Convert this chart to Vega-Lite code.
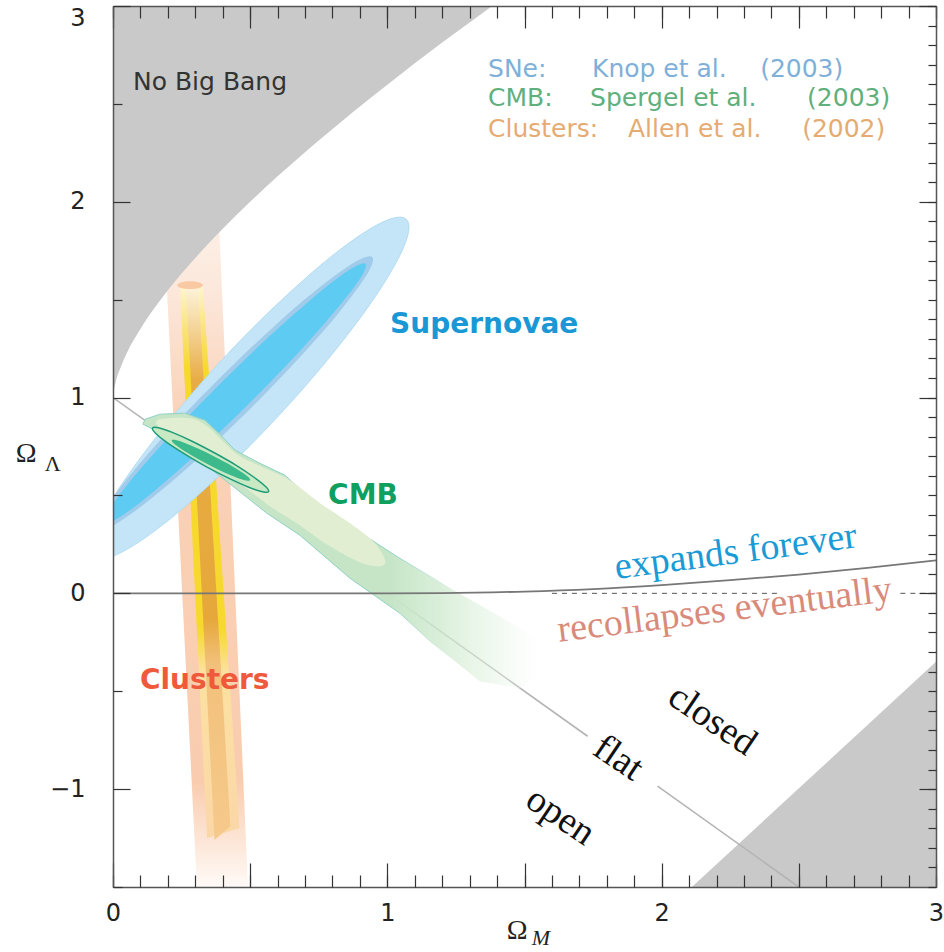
{
"$schema": "https://vega.github.io/schema/vega-lite/v6.json",
"width": 823, "height": 881,
"autosize": {"type": "none"},
"padding": {"left": 113, "top": 6, "right": 8, "bottom": 65},
"background": "white",
"config": {"view": {"stroke": null}},
"datasets": {
"cl": [
{"part":"outer","i":0,"x":0.177,"y":2.1},{"part":"outer","i":1,"x":0.380,"y":2.1},{"part":"outer","i":2,"x":0.492,"y":-1.5},{"part":"outer","i":3,"x":0.306,"y":-1.5},
{"part":"yellow","i":0,"x":0.244,"y":1.57},{"part":"yellow","i":1,"x":0.328,"y":1.57},{"part":"yellow","i":2,"x":0.461,"y":-1.2},{"part":"yellow","i":3,"x":0.343,"y":-1.25},
{"part":"core","i":0,"x":0.266,"y":1.57},{"part":"core","i":1,"x":0.310,"y":1.57},{"part":"core","i":2,"x":0.428,"y":-1.19},{"part":"core","i":3,"x":0.370,"y":-1.26},
{"part":"cap","i":0,"x":0.328,"y":1.574},{"part":"cap","i":1,"x":0.314,"y":1.588},{"part":"cap","i":2,"x":0.281,"y":1.594},{"part":"cap","i":3,"x":0.248,"y":1.588},{"part":"cap","i":4,"x":0.234,"y":1.574},{"part":"cap","i":5,"x":0.248,"y":1.560},{"part":"cap","i":6,"x":0.281,"y":1.554},{"part":"cap","i":7,"x":0.314,"y":1.560}
],
"bigbang": [
{"x":0,"y":1.0},{"x":0.002,"y":1.024},{"x":0.01,"y":1.08},{"x":0.03,"y":1.161},{"x":0.05,"y":1.226},{"x":0.1,"y":1.35},{"x":0.2,"y":1.548},{"x":0.3,"y":1.713},{"x":0.4,"y":1.862},{"x":0.5,"y":2.0},{"x":0.6,"y":2.13},{"x":0.75,"y":2.313},{"x":1.0,"y":2.598},{"x":1.2,"y":2.813},{"x":1.4,"y":3.018}
],
"corner": [{"x":2.11,"y":-1.5},{"x":3.0,"y":-0.35}],
"sn": [
{"lv":"outer","i":0,"x":1.079,"y":1.871},{"lv":"outer","i":1,"x":1.059,"y":1.767},{"lv":"outer","i":2,"x":1.001,"y":1.614},{"lv":"outer","i":3,"x":0.909,"y":1.422},{"lv":"outer","i":4,"x":0.789,"y":1.205},{"lv":"outer","i":5,"x":0.650,"y":0.978},{"lv":"outer","i":6,"x":0.499,"y":0.754},{"lv":"outer","i":7,"x":0.349,"y":0.551},{"lv":"outer","i":8,"x":0.210,"y":0.382},{"lv":"outer","i":9,"x":0.090,"y":0.258},{"lv":"outer","i":10,"x":-0.003,"y":0.188},{"lv":"outer","i":11,"x":-0.061,"y":0.176},{"lv":"outer","i":12,"x":-0.080,"y":0.224},{"lv":"outer","i":13,"x":-0.061,"y":0.328},{"lv":"outer","i":14,"x":-0.003,"y":0.481},{"lv":"outer","i":15,"x":0.090,"y":0.673},{"lv":"outer","i":16,"x":0.210,"y":0.890},{"lv":"outer","i":17,"x":0.349,"y":1.118},{"lv":"outer","i":18,"x":0.499,"y":1.341},{"lv":"outer","i":19,"x":0.650,"y":1.544},{"lv":"outer","i":20,"x":0.789,"y":1.713},{"lv":"outer","i":21,"x":0.909,"y":1.837},{"lv":"outer","i":22,"x":1.001,"y":1.907},{"lv":"outer","i":23,"x":1.059,"y":1.919},
{"lv":"mid","i":0,"x":0.948,"y":1.705},{"lv":"mid","i":1,"x":0.931,"y":1.641},{"lv":"mid","i":2,"x":0.880,"y":1.536},{"lv":"mid","i":3,"x":0.801,"y":1.395},{"lv":"mid","i":4,"x":0.696,"y":1.229},{"lv":"mid","i":5,"x":0.575,"y":1.049},{"lv":"mid","i":6,"x":0.445,"y":0.867},{"lv":"mid","i":7,"x":0.315,"y":0.695},{"lv":"mid","i":8,"x":0.193,"y":0.546},{"lv":"mid","i":9,"x":0.089,"y":0.430},{"lv":"mid","i":10,"x":0.009,"y":0.353},{"lv":"mid","i":11,"x":-0.041,"y":0.322},{"lv":"mid","i":12,"x":-0.058,"y":0.339},{"lv":"mid","i":13,"x":-0.041,"y":0.403},{"lv":"mid","i":14,"x":0.009,"y":0.508},{"lv":"mid","i":15,"x":0.089,"y":0.649},{"lv":"mid","i":16,"x":0.193,"y":0.815},{"lv":"mid","i":17,"x":0.315,"y":0.995},{"lv":"mid","i":18,"x":0.445,"y":1.177},{"lv":"mid","i":19,"x":0.575,"y":1.348},{"lv":"mid","i":20,"x":0.696,"y":1.498},{"lv":"mid","i":21,"x":0.801,"y":1.614},{"lv":"mid","i":22,"x":0.880,"y":1.691},{"lv":"mid","i":23,"x":0.931,"y":1.721},
{"lv":"inner","i":0,"x":0.922,"y":1.675},{"lv":"inner","i":1,"x":0.906,"y":1.620},{"lv":"inner","i":2,"x":0.858,"y":1.526},{"lv":"inner","i":3,"x":0.782,"y":1.397},{"lv":"inner","i":4,"x":0.684,"y":1.242},{"lv":"inner","i":5,"x":0.568,"y":1.072},{"lv":"inner","i":6,"x":0.445,"y":0.899},{"lv":"inner","i":7,"x":0.321,"y":0.734},{"lv":"inner","i":8,"x":0.206,"y":0.589},{"lv":"inner","i":9,"x":0.107,"y":0.473},{"lv":"inner","i":10,"x":0.031,"y":0.395},{"lv":"inner","i":11,"x":-0.016,"y":0.360},{"lv":"inner","i":12,"x":-0.033,"y":0.369},{"lv":"inner","i":13,"x":-0.016,"y":0.424},{"lv":"inner","i":14,"x":0.031,"y":0.518},{"lv":"inner","i":15,"x":0.107,"y":0.647},{"lv":"inner","i":16,"x":0.206,"y":0.802},{"lv":"inner","i":17,"x":0.321,"y":0.972},{"lv":"inner","i":18,"x":0.445,"y":1.145},{"lv":"inner","i":19,"x":0.568,"y":1.310},{"lv":"inner","i":20,"x":0.684,"y":1.455},{"lv":"inner","i":21,"x":0.782,"y":1.571},{"lv":"inner","i":22,"x":0.858,"y":1.649},{"lv":"inner","i":23,"x":0.906,"y":1.684}
],
"cmb": [
{"p":"band","i":0,"x":0.117,"y":0.889},{"p":"band","i":1,"x":0.171,"y":0.915},{"p":"band","i":2,"x":0.262,"y":0.920},{"p":"band","i":3,"x":0.335,"y":0.884},{"p":"band","i":4,"x":0.390,"y":0.812},{"p":"band","i":5,"x":0.445,"y":0.731},{"p":"band","i":6,"x":0.536,"y":0.664},{"p":"band","i":7,"x":0.627,"y":0.603},{"p":"band","i":8,"x":0.718,"y":0.485},{"p":"band","i":9,"x":0.864,"y":0.342},{"p":"band","i":10,"x":1.046,"y":0.179},{"p":"band","i":11,"x":1.229,"y":0.026},{"p":"band","i":12,"x":1.411,"y":-0.118},{"p":"band","i":13,"x":1.611,"y":-0.281},{"p":"band","i":14,"x":1.586,"y":-0.373},{"p":"band","i":15,"x":1.484,"y":-0.485},{"p":"band","i":16,"x":1.338,"y":-0.450},{"p":"band","i":17,"x":1.156,"y":-0.245},{"p":"band","i":18,"x":1.046,"y":-0.102},{"p":"band","i":19,"x":0.864,"y":0.077},{"p":"band","i":20,"x":0.682,"y":0.296},{"p":"band","i":21,"x":0.561,"y":0.409},{"p":"band","i":22,"x":0.437,"y":0.547},{"p":"band","i":23,"x":0.317,"y":0.680},{"p":"band","i":24,"x":0.226,"y":0.782},{"p":"band","i":25,"x":0.153,"y":0.833},{"p":"band","i":26,"x":0.109,"y":0.864},
{"p":"light","i":0,"x":0.171,"y":0.889},{"p":"light","i":1,"x":0.281,"y":0.894},{"p":"light","i":2,"x":0.343,"y":0.853},{"p":"light","i":3,"x":0.397,"y":0.782},{"p":"light","i":4,"x":0.463,"y":0.700},{"p":"light","i":5,"x":0.554,"y":0.639},{"p":"light","i":6,"x":0.645,"y":0.577},{"p":"light","i":7,"x":0.755,"y":0.460},{"p":"light","i":8,"x":0.864,"y":0.358},{"p":"light","i":9,"x":0.955,"y":0.255},{"p":"light","i":10,"x":0.992,"y":0.153},{"p":"light","i":11,"x":0.919,"y":0.148},{"p":"light","i":12,"x":0.791,"y":0.240},{"p":"light","i":13,"x":0.682,"y":0.347},{"p":"light","i":14,"x":0.572,"y":0.445},{"p":"light","i":15,"x":0.463,"y":0.562},{"p":"light","i":16,"x":0.335,"y":0.700},{"p":"light","i":17,"x":0.226,"y":0.807},{"p":"light","i":18,"x":0.164,"y":0.853},
{"p":"e1","i":0,"x":0.567,"y":0.520},{"p":"e1","i":1,"x":0.545,"y":0.519},{"p":"e1","i":2,"x":0.495,"y":0.542},{"p":"e1","i":3,"x":0.423,"y":0.587},{"p":"e1","i":4,"x":0.341,"y":0.646},{"p":"e1","i":5,"x":0.262,"y":0.711},{"p":"e1","i":6,"x":0.196,"y":0.771},{"p":"e1","i":7,"x":0.155,"y":0.818},{"p":"e1","i":8,"x":0.144,"y":0.844},{"p":"e1","i":9,"x":0.166,"y":0.846},{"p":"e1","i":10,"x":0.216,"y":0.822},{"p":"e1","i":11,"x":0.288,"y":0.777},{"p":"e1","i":12,"x":0.369,"y":0.718},{"p":"e1","i":13,"x":0.449,"y":0.654},{"p":"e1","i":14,"x":0.514,"y":0.593},{"p":"e1","i":15,"x":0.556,"y":0.546},
{"p":"e2","i":0,"x":0.500,"y":0.577},{"p":"e2","i":1,"x":0.486,"y":0.576},{"p":"e2","i":2,"x":0.452,"y":0.591},{"p":"e2","i":3,"x":0.404,"y":0.619},{"p":"e2","i":4,"x":0.349,"y":0.657},{"p":"e2","i":5,"x":0.295,"y":0.698},{"p":"e2","i":6,"x":0.250,"y":0.736},{"p":"e2","i":7,"x":0.222,"y":0.765},{"p":"e2","i":8,"x":0.214,"y":0.782},{"p":"e2","i":9,"x":0.229,"y":0.783},{"p":"e2","i":10,"x":0.262,"y":0.768},{"p":"e2","i":11,"x":0.310,"y":0.740},{"p":"e2","i":12,"x":0.366,"y":0.702},{"p":"e2","i":13,"x":0.420,"y":0.662},{"p":"e2","i":14,"x":0.464,"y":0.623},{"p":"e2","i":15,"x":0.493,"y":0.594}
],
"flat": [
{"s":"a","i":0,"x":0,"y":1},{"s":"a","i":1,"x":1.73,"y":-0.73},
{"s":"b","i":0,"x":1.985,"y":-0.985},{"s":"b","i":1,"x":2.5,"y":-1.5}
],
"expand": [
{"x":0,"y":0},{"x":1,"y":0},{"x":1.2,"y":0.001},{"x":1.5,"y":0.009},{"x":1.75,"y":0.022},{"x":2,"y":0.042},{"x":2.25,"y":0.067},{"x":2.5,"y":0.096},{"x":2.75,"y":0.130},{"x":3,"y":0.168}
],
"dash": [
{"s":"a","x":1.6,"y":0},{"s":"a","x":2.43,"y":0},{"s":"b","x":2.87,"y":0},{"s":"b","x":3,"y":0}
],
"labels": [
{"k":"nbb","t":"No Big Bang","x":0.073,"y":2.611},
{"k":"lsn","t":"SNe:","x":1.367,"y":2.678},{"k":"lsn","t":"Knop et al.","x":1.746,"y":2.678},{"k":"lsn","t":"(2003)","x":2.359,"y":2.678},
{"k":"lcmb","t":"CMB:","x":1.367,"y":2.529},{"k":"lcmb","t":"Spergel et al.","x":1.739,"y":2.529},{"k":"lcmb","t":"(2003)","x":2.530,"y":2.529},
{"k":"lcl","t":"Clusters:","x":1.367,"y":2.371},{"k":"lcl","t":"Allen et al.","x":1.877,"y":2.371},{"k":"lcl","t":"(2002)","x":2.512,"y":2.371},
{"k":"bsn","t":"Supernovae","x":1.01,"y":1.369},
{"k":"bcmb","t":"CMB","x":0.784,"y":0.496},
{"k":"bcl","t":"Clusters","x":0.098,"y":-0.450},
{"k":"exp","t":"expands forever","x":2.27,"y":0.21},
{"k":"rec","t":"recollapses eventually","x":2.23,"y":-0.087},
{"k":"geo","t":"closed","x":2.184,"y":-0.649},{"k":"geo","t":"flat","x":1.841,"y":-0.843},{"k":"geo","t":"open","x":1.630,"y":-1.140},
{"k":"om","t":"Ω","x":1.473,"y":-1.727},{"k":"om","t":"Ω","x":-0.317,"y":0.710},
{"k":"subm","t":"M","x":1.560,"y":-1.763},
{"k":"subl","t":"Λ","x":-0.220,"y":0.659}
]
},
"layer": [
{"data":{"name":"cl"},"transform":[{"filter":"datum.part==='outer'"}],
 "mark":{"type":"line","interpolate":"linear-closed","clip":true,"strokeWidth":0,
  "fill":{"gradient":"linear","x1":0,"y1":0,"x2":0,"y2":1,"stops":[{"offset":0,"color":"#fdf3ec"},{"offset":0.15,"color":"#fce8dc"},{"offset":0.33,"color":"#fad2b8"},{"offset":0.85,"color":"#f9ccae"},{"offset":1,"color":"#fffaf7"}]}},
 "encoding":{
  "x":{"field":"x","type":"quantitative","scale":{"domain":[0,3],"nice":false,"zero":false},
   "axis":{"orient":"bottom","values":[0,1,2,3],"ticks":false,"domain":true,"domainColor":"#555","domainWidth":1.5,"labelFont":"DejaVu Sans","labelFontSize":24,"labelColor":"#222","labelPadding":14,"labelFlush":false,"labelOverlap":false,"grid":false,"title":null,"zindex":1}},
  "y":{"field":"y","type":"quantitative","scale":{"domain":[-1.5,3],"nice":false,"zero":false},
   "axis":{"orient":"left","values":[-1,0,1,2,3],"ticks":false,"domain":true,"domainColor":"#555","domainWidth":1.5,"labelFont":"DejaVu Sans","labelFontSize":24,"labelColor":"#222","labelPadding":28,"labelFlush":true,"labelOverlap":false,"grid":false,"title":null,"zindex":1}},
  "order":{"field":"i"}}},
{"data":{"name":"cl"},"transform":[{"filter":"datum.part==='yellow'"}],
 "mark":{"type":"line","interpolate":"linear-closed","clip":true,"strokeWidth":0,
  "fill":{"gradient":"linear","x1":0,"y1":0,"x2":0,"y2":1,"stops":[{"offset":0,"color":"#fef6d0"},{"offset":0.08,"color":"#fae27a"},{"offset":0.15,"color":"#f6d92c"},{"offset":0.62,"color":"#f6d92c"},{"offset":0.7,"color":"#fce1a0"},{"offset":1,"color":"#fbd7a8"}]}},
 "encoding":{
  "x":{"field":"x","type":"quantitative","scale":{"domain":[0,3],"nice":false,"zero":false},
   "axis":{"orient":"bottom","values":[0,0.5,1,1.5,2,2.5,3],"tickSize":-24,"tickColor":"#333","tickWidth":1.2,"labels":false,"domain":false,"grid":false,"title":null,"zindex":1}},
  "y":{"field":"y","type":"quantitative","scale":{"domain":[-1.5,3],"nice":false,"zero":false},
   "axis":{"orient":"left","values":[-1,0,1,2,3],"tickSize":-17,"tickColor":"#333","tickWidth":1.2,"labels":false,"domain":false,"grid":false,"title":null,"zindex":1}},
  "order":{"field":"i"}}},
{"data":{"name":"cl"},"transform":[{"filter":"datum.part==='core'"}],
 "mark":{"type":"line","interpolate":"linear-closed","clip":true,"strokeWidth":0,
  "fill":{"gradient":"linear","x1":0,"y1":0,"x2":0,"y2":1,"stops":[{"offset":0,"color":"#fdf3dc"},{"offset":0.05,"color":"#f8e0b0"},{"offset":0.17,"color":"#e8ac45"},{"offset":0.6,"color":"#e6a83a"},{"offset":0.68,"color":"#f2c07a"},{"offset":1,"color":"#f6ca8c"}]}},
 "encoding":{
  "x":{"field":"x","type":"quantitative","scale":{"domain":[0,3],"nice":false,"zero":false},
   "axis":{"orient":"bottom","values":[0,0.1,0.2,0.3,0.4,0.5,0.6,0.7,0.8,0.9,1,1.1,1.2,1.3,1.4,1.5,1.6,1.7,1.8,1.9,2,2.1,2.2,2.3,2.4,2.5,2.6,2.7,2.8,2.9,3],"tickSize":-12,"tickColor":"#333","tickWidth":1.2,"labels":false,"domain":false,"grid":false,"title":null,"zindex":1}},
  "y":{"field":"y","type":"quantitative","scale":{"domain":[-1.5,3],"nice":false,"zero":false},
   "axis":{"orient":"left","values":[-1.5,-0.5,0.5,1.5,2.5],"tickSize":-9,"tickColor":"#333","tickWidth":1.2,"labels":false,"domain":false,"grid":false,"title":null,"zindex":1}},
  "order":{"field":"i"}}},
{"data":{"name":"cl"},"transform":[{"filter":"datum.part==='cap'"}],
 "mark":{"type":"line","interpolate":"cardinal-closed","clip":true,"strokeWidth":0,"fill":"#f8c9a2"},
 "encoding":{
  "x":{"field":"x","type":"quantitative","scale":{"domain":[0,3],"nice":false,"zero":false},
   "axis":{"orient":"top","values":[0,0.5,1,1.5,2,2.5,3],"tickSize":-22,"tickColor":"#333","tickWidth":1.2,"labels":false,"domain":true,"domainColor":"#555","domainWidth":1.5,"grid":false,"title":null,"zindex":1}},
  "y":{"field":"y","type":"quantitative","scale":{"domain":[-1.5,3],"nice":false,"zero":false},
   "axis":{"orient":"right","values":[-1,0,1,2,3],"tickSize":-17,"tickColor":"#333","tickWidth":1.2,"labels":false,"domain":true,"domainColor":"#555","domainWidth":1.5,"grid":false,"title":null,"zindex":1}},
  "order":{"field":"i"}}},
{"data":{"name":"bigbang"},
 "mark":{"type":"area","orient":"vertical","clip":true,"color":"#c9c9c9","interpolate":"monotone"},
 "encoding":{
  "x":{"field":"x","type":"quantitative","scale":{"domain":[0,3],"nice":false,"zero":false},
   "axis":{"orient":"top","values":[0,0.1,0.2,0.3,0.4,0.5,0.6,0.7,0.8,0.9,1,1.1,1.2,1.3,1.4,1.5,1.6,1.7,1.8,1.9,2,2.1,2.2,2.3,2.4,2.5,2.6,2.7,2.8,2.9,3],"tickSize":-12,"tickColor":"#333","tickWidth":1.2,"labels":false,"domain":false,"grid":false,"title":null,"zindex":1}},
  "y":{"field":"y","type":"quantitative","scale":{"domain":[-1.5,3],"nice":false,"zero":false},
   "axis":{"orient":"right","values":[-1.5,-1.4,-1.3,-1.2,-1.1,-1,-0.9,-0.8,-0.7,-0.6,-0.5,-0.4,-0.3,-0.2,-0.1,0,0.1,0.2,0.3,0.4,0.5,0.6,0.7,0.8,0.9,1,1.1,1.2,1.3,1.4,1.5,1.6,1.7,1.8,1.9,2,2.1,2.2,2.3,2.4,2.5,2.6,2.7,2.8,2.9,3],"tickSize":-8,"tickColor":"#333","tickWidth":1.2,"labels":false,"domain":false,"grid":false,"title":null,"zindex":1}},
  "y2":{"datum":3}}},
{"data":{"name":"corner"},
 "mark":{"type":"area","orient":"vertical","clip":true,"color":"#c9c9c9"},
 "encoding":{
  "x":{"field":"x","type":"quantitative","scale":{"domain":[0,3],"nice":false,"zero":false},"axis":null},
  "y":{"field":"y","type":"quantitative","scale":{"domain":[-1.5,3],"nice":false,"zero":false},"axis":null},
  "y2":{"datum":-1.5}}},
{"data":{"name":"sn"},"transform":[{"filter":"datum.lv==='outer'"}],
 "mark":{"type":"line","interpolate":"cardinal-closed","clip":true,"fill":"#c3e5f7","stroke":"#b3dcf2","strokeWidth":1},
 "encoding":{
  "x":{"field":"x","type":"quantitative","scale":{"domain":[0,3],"nice":false,"zero":false},"axis":null},
  "y":{"field":"y","type":"quantitative","scale":{"domain":[-1.5,3],"nice":false,"zero":false},"axis":null},
  "order":{"field":"i"}}},
{"data":{"name":"sn"},"transform":[{"filter":"datum.lv==='mid'"}],
 "mark":{"type":"line","interpolate":"cardinal-closed","clip":true,"fill":"#a0cbea","strokeWidth":0},
 "encoding":{
  "x":{"field":"x","type":"quantitative","scale":{"domain":[0,3],"nice":false,"zero":false},"axis":null},
  "y":{"field":"y","type":"quantitative","scale":{"domain":[-1.5,3],"nice":false,"zero":false},"axis":null},
  "order":{"field":"i"}}},
{"data":{"name":"sn"},"transform":[{"filter":"datum.lv==='inner'"}],
 "mark":{"type":"line","interpolate":"cardinal-closed","clip":true,"fill":"#5ecbf2","strokeWidth":0},
 "encoding":{
  "x":{"field":"x","type":"quantitative","scale":{"domain":[0,3],"nice":false,"zero":false},"axis":null},
  "y":{"field":"y","type":"quantitative","scale":{"domain":[-1.5,3],"nice":false,"zero":false},"axis":null},
  "order":{"field":"i"}}},
{"data":{"name":"flat"},
 "mark":{"type":"line","color":"#b4b4b4","strokeWidth":1.6,"clip":true},
 "encoding":{
  "x":{"field":"x","type":"quantitative","scale":{"domain":[0,3],"nice":false,"zero":false},"axis":null},
  "y":{"field":"y","type":"quantitative","scale":{"domain":[-1.5,3],"nice":false,"zero":false},"axis":null},
  "detail":{"field":"s"},
  "order":{"field":"i"}}},
{"data":{"name":"cmb"},"transform":[{"filter":"datum.p==='band'"}],
 "mark":{"type":"line","interpolate":"linear-closed","clip":true,"strokeWidth":1,
  "fill":{"gradient":"linear","x1":0,"y1":0,"x2":1,"y2":0,"stops":[{"offset":0,"color":"#c6e5c7"},{"offset":0.6,"color":"#c6e5c7"},{"offset":0.72,"color":"rgba(205,233,205,0.75)"},{"offset":0.86,"color":"rgba(225,242,224,0.45)"},{"offset":1,"color":"rgba(255,255,255,0)"}]},
  "stroke":{"gradient":"linear","x1":0,"y1":0,"x2":1,"y2":0,"stops":[{"offset":0,"color":"#8fd1c5"},{"offset":0.6,"color":"#8fd1c5"},{"offset":0.75,"color":"rgba(143,209,197,0)"},{"offset":1,"color":"rgba(143,209,197,0)"}]}},
 "encoding":{
  "x":{"field":"x","type":"quantitative","scale":{"domain":[0,3],"nice":false,"zero":false},"axis":null},
  "y":{"field":"y","type":"quantitative","scale":{"domain":[-1.5,3],"nice":false,"zero":false},"axis":null},
  "order":{"field":"i"}}},
{"data":{"name":"cmb"},"transform":[{"filter":"datum.p==='light'"}],
 "mark":{"type":"line","interpolate":"cardinal-closed","clip":true,"fill":"#e2eed2","strokeWidth":0},
 "encoding":{
  "x":{"field":"x","type":"quantitative","scale":{"domain":[0,3],"nice":false,"zero":false},"axis":null},
  "y":{"field":"y","type":"quantitative","scale":{"domain":[-1.5,3],"nice":false,"zero":false},"axis":null},
  "order":{"field":"i"}}},
{"data":{"name":"cmb"},"transform":[{"filter":"datum.p==='e1'"}],
 "mark":{"type":"line","interpolate":"cardinal-closed","clip":true,"fill":"#c9e9c4","stroke":"#1d9c78","strokeWidth":1.5},
 "encoding":{
  "x":{"field":"x","type":"quantitative","scale":{"domain":[0,3],"nice":false,"zero":false},"axis":null},
  "y":{"field":"y","type":"quantitative","scale":{"domain":[-1.5,3],"nice":false,"zero":false},"axis":null},
  "order":{"field":"i"}}},
{"data":{"name":"cmb"},"transform":[{"filter":"datum.p==='e2'"}],
 "mark":{"type":"line","interpolate":"cardinal-closed","clip":true,"fill":"#3dba8c","strokeWidth":0},
 "encoding":{
  "x":{"field":"x","type":"quantitative","scale":{"domain":[0,3],"nice":false,"zero":false},"axis":null},
  "y":{"field":"y","type":"quantitative","scale":{"domain":[-1.5,3],"nice":false,"zero":false},"axis":null},
  "order":{"field":"i"}}},
{"data":{"name":"expand"},
 "mark":{"type":"line","color":"#777","strokeWidth":1.8,"interpolate":"monotone","clip":true},
 "encoding":{
  "x":{"field":"x","type":"quantitative","scale":{"domain":[0,3],"nice":false,"zero":false},"axis":null},
  "y":{"field":"y","type":"quantitative","scale":{"domain":[-1.5,3],"nice":false,"zero":false},"axis":null}}},
{"data":{"name":"dash"},
 "mark":{"type":"line","color":"#555","strokeWidth":1,"strokeDash":[5,5],"clip":true},
 "encoding":{
  "x":{"field":"x","type":"quantitative","scale":{"domain":[0,3],"nice":false,"zero":false},"axis":null},
  "y":{"field":"y","type":"quantitative","scale":{"domain":[-1.5,3],"nice":false,"zero":false},"axis":null},
  "detail":{"field":"s"}}},
{"data":{"name":"labels"},"transform":[{"filter":"datum.k==='nbb'"}],
 "mark":{"type":"text","font":"DejaVu Sans","fontSize":25,"color":"#333","align":"left","baseline":"middle"},
 "encoding":{"x":{"field":"x","type":"quantitative","axis":null},"y":{"field":"y","type":"quantitative","axis":null},"text":{"field":"t"}}},
{"data":{"name":"labels"},"transform":[{"filter":"datum.k==='lsn'"}],
 "mark":{"type":"text","font":"DejaVu Sans","fontSize":25,"color":"#7fb0d9","align":"left","baseline":"middle"},
 "encoding":{"x":{"field":"x","type":"quantitative","axis":null},"y":{"field":"y","type":"quantitative","axis":null},"text":{"field":"t"}}},
{"data":{"name":"labels"},"transform":[{"filter":"datum.k==='lcmb'"}],
 "mark":{"type":"text","font":"DejaVu Sans","fontSize":25,"color":"#5fb07c","align":"left","baseline":"middle"},
 "encoding":{"x":{"field":"x","type":"quantitative","axis":null},"y":{"field":"y","type":"quantitative","axis":null},"text":{"field":"t"}}},
{"data":{"name":"labels"},"transform":[{"filter":"datum.k==='lcl'"}],
 "mark":{"type":"text","font":"DejaVu Sans","fontSize":25,"color":"#e6ab72","align":"left","baseline":"middle"},
 "encoding":{"x":{"field":"x","type":"quantitative","axis":null},"y":{"field":"y","type":"quantitative","axis":null},"text":{"field":"t"}}},
{"data":{"name":"labels"},"transform":[{"filter":"datum.k==='bsn'"}],
 "mark":{"type":"text","font":"DejaVu Sans","fontSize":28,"fontWeight":"bold","color":"#1a98d5","align":"left","baseline":"middle"},
 "encoding":{"x":{"field":"x","type":"quantitative","axis":null},"y":{"field":"y","type":"quantitative","axis":null},"text":{"field":"t"}}},
{"data":{"name":"labels"},"transform":[{"filter":"datum.k==='bcmb'"}],
 "mark":{"type":"text","font":"DejaVu Sans","fontSize":28,"fontWeight":"bold","color":"#0f9f5f","align":"left","baseline":"middle"},
 "encoding":{"x":{"field":"x","type":"quantitative","axis":null},"y":{"field":"y","type":"quantitative","axis":null},"text":{"field":"t"}}},
{"data":{"name":"labels"},"transform":[{"filter":"datum.k==='bcl'"}],
 "mark":{"type":"text","font":"DejaVu Sans","fontSize":28,"fontWeight":"bold","color":"#ef5a3c","align":"left","baseline":"middle"},
 "encoding":{"x":{"field":"x","type":"quantitative","axis":null},"y":{"field":"y","type":"quantitative","axis":null},"text":{"field":"t"}}},
{"data":{"name":"labels"},"transform":[{"filter":"datum.k==='exp'"}],
 "mark":{"type":"text","font":"Liberation Serif","fontSize":38,"color":"#1b9bd6","align":"center","baseline":"middle","angle":-7.5},
 "encoding":{"x":{"field":"x","type":"quantitative","axis":null},"y":{"field":"y","type":"quantitative","axis":null},"text":{"field":"t"}}},
{"data":{"name":"labels"},"transform":[{"filter":"datum.k==='rec'"}],
 "mark":{"type":"text","font":"Liberation Serif","fontSize":38,"color":"#d98b7b","align":"center","baseline":"middle","angle":-7},
 "encoding":{"x":{"field":"x","type":"quantitative","axis":null},"y":{"field":"y","type":"quantitative","axis":null},"text":{"field":"t"}}},
{"data":{"name":"labels"},"transform":[{"filter":"datum.k==='geo'"}],
 "mark":{"type":"text","font":"Liberation Serif","fontSize":38,"color":"#111","align":"center","baseline":"middle","angle":34},
 "encoding":{"x":{"field":"x","type":"quantitative","axis":null},"y":{"field":"y","type":"quantitative","axis":null},"text":{"field":"t"}}},
{"data":{"name":"labels"},"transform":[{"filter":"datum.k==='om'"}],
 "mark":{"type":"text","font":"Liberation Serif","fontSize":28,"color":"#222","align":"center","baseline":"middle"},
 "encoding":{"x":{"field":"x","type":"quantitative","axis":null},"y":{"field":"y","type":"quantitative","axis":null},"text":{"field":"t"}}},
{"data":{"name":"labels"},"transform":[{"filter":"datum.k==='subm'"}],
 "mark":{"type":"text","font":"Liberation Serif","fontSize":22,"fontStyle":"italic","color":"#222","align":"center","baseline":"middle"},
 "encoding":{"x":{"field":"x","type":"quantitative","axis":null},"y":{"field":"y","type":"quantitative","axis":null},"text":{"field":"t"}}},
{"data":{"name":"labels"},"transform":[{"filter":"datum.k==='subl'"}],
 "mark":{"type":"text","font":"Liberation Serif","fontSize":22,"color":"#222","align":"center","baseline":"middle"},
 "encoding":{"x":{"field":"x","type":"quantitative","axis":null},"y":{"field":"y","type":"quantitative","axis":null},"text":{"field":"t"}}}
],
"resolve": {"axis": {"x": "independent", "y": "independent"}}
}
